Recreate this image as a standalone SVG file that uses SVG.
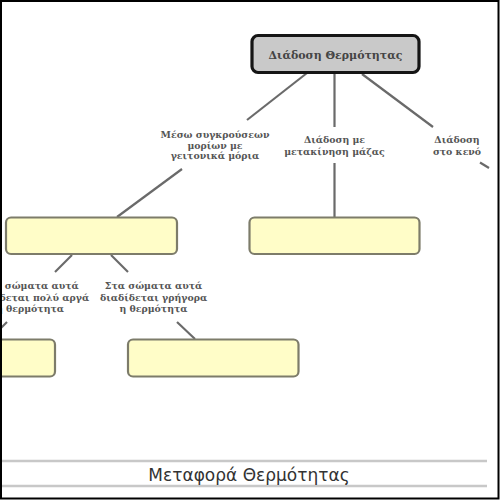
<svg xmlns="http://www.w3.org/2000/svg" width="500" height="500" viewBox="0 0 500 500">
<style>
.lbl{font-family:"DejaVu Serif","Liberation Serif",serif;font-size:9.4px;fill:#555;text-anchor:middle;font-weight:bold}
.box{fill:#fffdc8;stroke:#7d7c6a;stroke-width:2.2}
.conn line{stroke:#6a6a6a;stroke-width:2.2}
.title{font-family:"DejaVu Serif","Liberation Serif",serif;font-size:11px;font-weight:bold;fill:#444;text-anchor:middle}
</style>
<rect x="0" y="0" width="500" height="500" fill="#fff"/>
<g class="conn">
<line x1="307" y1="73" x2="247" y2="120"/>
<line x1="334.5" y1="74" x2="334.5" y2="127"/>
<line x1="362" y1="74" x2="433" y2="127"/>
<line x1="182" y1="169" x2="117" y2="217"/>
<line x1="334.5" y1="163" x2="334.5" y2="217"/>
<line x1="480" y1="162.5" x2="489" y2="168"/>
<line x1="72" y1="255" x2="55" y2="272"/>
<line x1="111" y1="255" x2="128" y2="272"/>
<line x1="7" y1="322" x2="0" y2="329"/>
<line x1="177" y1="322" x2="195" y2="339"/>
</g>
<g id="n-main">
<rect x="252" y="35.5" width="167" height="37" rx="6" fill="#c9c9c9" stroke="#151515" stroke-width="3.2"/>
<text class="title" x="335.5" y="58.5">Διάδοση Θερμότητας</text>
</g>
<g id="l-collisions">
<text class="lbl" x="215" y="138">Μέσω συγκρούσεων</text>
<text class="lbl" x="215" y="148.5">μορίων με</text>
<text class="lbl" x="215" y="159">γειτονικά μόρια</text>
</g>
<g id="l-mass">
<text class="lbl" x="334.5" y="143">Διάδοση με</text>
<text class="lbl" x="334.5" y="155">μετακίνηση μάζας</text>
</g>
<g id="l-vacuum">
<text class="lbl" x="457" y="143">Διάδοση</text>
<text class="lbl" x="457" y="155">στο κενό</text>
</g>
<g id="n-a"><rect class="box" x="6" y="217.5" width="171" height="36.5" rx="5"/></g>
<g id="n-b"><rect class="box" x="249.5" y="217.5" width="170" height="36.5" rx="5"/></g>
<g id="l-slow">
<text class="lbl" x="30" y="289">Στα σώματα αυτά</text>
<text class="lbl" x="30" y="300.5">διαδίδεται πολύ αργά</text>
<text class="lbl" x="30" y="312">η θερμότητα</text>
</g>
<g id="l-fast">
<text class="lbl" x="153.5" y="289">Στα σώματα αυτά</text>
<text class="lbl" x="153.5" y="300.5">διαδίδεται γρήγορα</text>
<text class="lbl" x="153.5" y="312">η θερμότητα</text>
</g>
<g id="n-c"><rect class="box" x="-10" y="339.5" width="65" height="37" rx="5"/></g>
<g id="n-d"><rect class="box" x="128" y="339.5" width="170.5" height="37" rx="5"/></g>
<g id="footer">
<line x1="0" y1="461" x2="487" y2="461" stroke="#c8c8c8" stroke-width="2.5"/>
<line x1="0" y1="486" x2="487" y2="486" stroke="#c8c8c8" stroke-width="2.5"/>
<text x="249" y="481" font-family="DejaVu Sans, sans-serif" font-size="17" fill="#333" text-anchor="middle">Μεταφορά Θερμότητας</text>
</g>
<rect x="1" y="1" width="497.5" height="497.5" fill="none" stroke="#000" stroke-width="2"/>
</svg>
